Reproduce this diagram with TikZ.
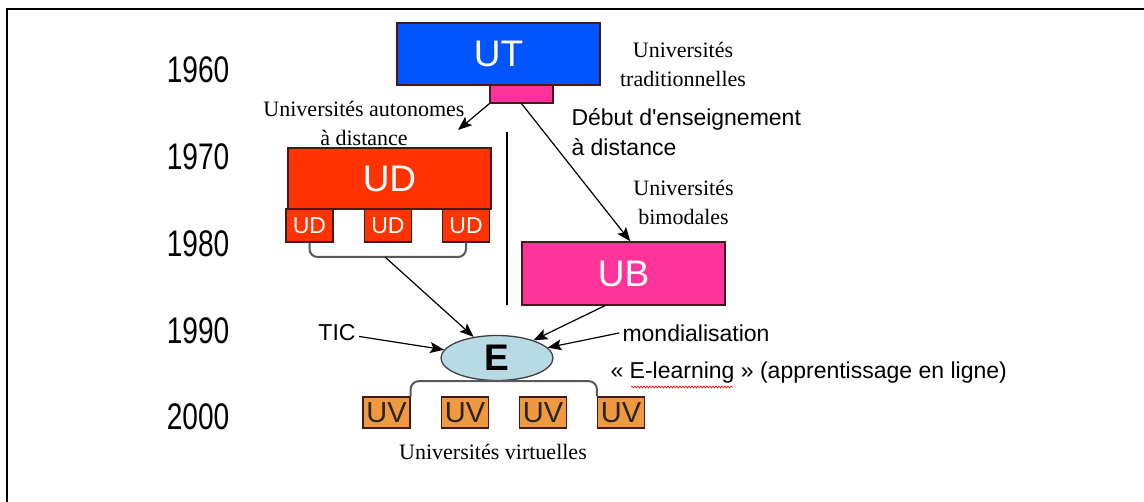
\documentclass[tikz,border=0pt]{standalone}
\usepackage{fontspec}
\setmainfont{Liberation Serif}
\setsansfont{Liberation Sans}
\usetikzlibrary{calc}
\usetikzlibrary{positioning}
\usetikzlibrary{shapes.geometric}
\usetikzlibrary{arrows.meta}
\usetikzlibrary{decorations.pathmorphing}
\definecolor{custom-blue}{RGB}{0, 85, 255}
\definecolor{custom-red}{RGB}{255, 51, 0}
\definecolor{custom-pink}{RGB}{255, 51, 153}
\definecolor{custom-orange}{RGB}{240, 153, 64}
\definecolor{custom-ice}{RGB}{184, 218, 228}
\definecolor{custom-rim}{RGB}{70, 25, 25}

\tikzset{
  unibox/.style={draw=custom-rim, line width=1.3pt, inner sep=0pt, text=white,
    minimum width=203pt, font=\sffamily\fontsize{37}{37}\selectfont},
  subbox/.style={draw=custom-rim, line width=1.3pt, inner sep=0pt,
    minimum width=47pt, font=\sffamily\fontsize{23}{23}\selectfont},
  year/.style={anchor=east, xscale=0.76, font=\sffamily\fontsize{37}{37}\selectfont},
  serif/.style={align=center, font=\fontsize{22}{29}\selectfont},
  sans/.style={font=\sffamily\fontsize{23}{30}\selectfont},
  link/.style={-{Stealth[length=14pt,width=11pt,inset=3pt]}, line width=1.2pt},
  brace/.style={draw=black!65, line width=2pt, rounded corners=8pt},
}

\begin{document}
\begin{tikzpicture}[x=1pt, y=-1pt]
\useasboundingbox (0,0) rectangle (1144,502);
% frame
\draw[line width=2.8pt] (7,502) -- (7,9) -- (1144,9);

% time axis
\node[year] (y60) at (232,70) {1960};
\node[year] (y70) at (232,157) {1970};
\node[year] (y80) at (232,244) {1980};
\node[year] (y90) at (232,331) {1990};
\node[year] (y00) at (232,417) {2000};

% traditional universities
\node[unibox, fill=custom-blue, minimum height=62pt] (ut) at (498.5,54) {UT};
\node[draw=custom-rim, line width=1.1pt, fill=custom-pink, inner sep=0pt,
  minimum width=63pt, minimum height=18pt] (utfoot) at (521.5,94) {};
\node[serif] (utlabel) at (683,64) {Universités\\traditionnelles};

% distance universities
\node[serif] (udlabel) at (364,123) {Universités autonomes\\à distance};
\node[unibox, fill=custom-red, minimum height=61pt] (ud) at (389.5,178.5) {UD};
\node[subbox, fill=custom-red, text=white, minimum height=33pt] (uda) at (309.5,225.5) {UD};
\node[subbox, fill=custom-red, text=white, minimum height=33pt] (udb) at (388,225.5) {UD};
\node[subbox, fill=custom-red, text=white, minimum height=33pt] (udc) at (466,225.5) {UD};
\coordinate (udjoin) at (385,257);
\coordinate (udtip) at (458,130);

% bimodal universities
\node[sans, anchor=west, align=left] (debut) at (568,132)
  {Début d\textquotesingle enseignement\\à distance};
\node[serif] (ublabel) at (683.5,202.5) {Universités\\bimodales};
\node[unibox, fill=custom-pink, minimum height=63pt] (ub) at (623.5,273.5) {UB};

% e-learning
\node[ellipse, draw=black!75, line width=1.3pt, fill=custom-ice, inner sep=0pt,
  minimum width=112pt, minimum height=45pt,
  font=\sffamily\bfseries\fontsize{37}{37}\selectfont] (e) at (497,358) {E};
\node[sans] (tic) at (337,333) {TIC};
\node[sans, anchor=west] (mondial) at (619,333) {mondialisation};
\node[sans, anchor=west] (elearn) at (607,373) {« E-learning » (apprentissage en ligne)};

% virtual universities
\node[subbox, fill=custom-orange, text=black!85, minimum height=31pt,
  font=\sffamily\fontsize{29}{29}\selectfont] (uv1) at (386.5,412.5) {UV};
\node[subbox, fill=custom-orange, text=black!85, minimum height=31pt,
  font=\sffamily\fontsize{29}{29}\selectfont] (uv2) at (465,412.5) {UV};
\node[subbox, fill=custom-orange, text=black!85, minimum height=31pt,
  font=\sffamily\fontsize{29}{29}\selectfont] (uv3) at (543,412.5) {UV};
\node[subbox, fill=custom-orange, text=black!85, minimum height=31pt,
  font=\sffamily\fontsize{29}{29}\selectfont] (uv4) at (621,412.5) {UV};
\node[serif] (uvlabel) at (493,452) {Universités virtuelles};

% connectors
\draw[link] (utfoot.south west) -- (udtip);
\draw[link] (utfoot.south) -- (ub.78);
\draw[brace] (uda.south) |- (udjoin) -| (udc.south);
\draw[link] (udjoin) -- (e);
\draw[link] (ub.240) -- (e);
\draw[link] (tic) -- (e);
\draw[link] (mondial.west) -- (e);
\draw[brace] (uv1.north east) |- (e.south) -| (uv4.north west);

% divider between the two branches
\draw[line width=1.3pt] (507,132) -- (507,305);

% spell-check squiggle
\draw[red, line width=0.6pt, decorate,
  decoration={snake, amplitude=1pt, segment length=3pt}]
  ($(elearn.west)+(24,14)$) -- ($(elearn.west)+(126,14)$);
\end{tikzpicture}
\end{document}
